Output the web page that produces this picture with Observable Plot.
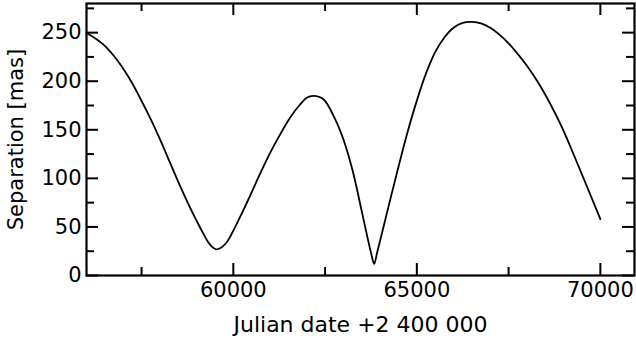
<!DOCTYPE html>
<html>
<head>
<meta charset="utf-8">
<script src="https://cdn.jsdelivr.net/npm/d3@7"></script>
<script src="https://cdn.jsdelivr.net/npm/@observablehq/plot@0.6"></script>
<style>
  html, body { margin: 0; padding: 0; background: #fff; }
  svg { display: block; }
</style>
</head>
<body>
<div id="chart"></div>
<script>
// Julian date (minus 2 400 000)
const jd = [56000, 56455, 56818, 57182, 57455, 57727, 58000, 58273, 58545, 58818, 59091, 59318, 59420, 59530, 59650, 59800, 59909, 60182, 60455, 60727, 61000, 61273, 61545, 61818, 62000, 62182, 62455, 62773, 63000, 63250, 63500, 63650, 63760, 63838, 63920, 64000, 64137, 64300, 64500, 64750, 65000, 65250, 65500, 65750, 66000, 66250, 66500, 66750, 67000, 67250, 67500, 67750, 68000, 68364, 68909, 69455, 70000];
// Separation in mas
const sep = [250, 238, 222.6, 202, 183, 162.7, 140.4, 116.4, 92.5, 70.2, 49.7, 34.2, 29.5, 27, 28.3, 33.2, 39.6, 60, 82, 104.5, 126, 145, 162.5, 176, 183, 185, 181.5, 161, 140, 108, 66, 40, 22, 12, 24, 36, 57, 82, 112, 148, 180, 208, 230, 245, 255, 260, 261, 259.5, 255, 248, 239, 228, 216, 195, 156, 108, 58];

const xMajor = [60000, 65000, 70000];
const xMinor = [57500, 62500, 67500];
const yMajor = [0, 50, 100, 150, 200, 250];
const yMinor = [25, 75, 125, 175, 225, 275];

const xLabel = "Julian date +2 400 000";
const yLabel = "Separation [mas]";

const data = jd.map((d, i) => ({jd: d, sep: sep[i]}));

const W = 636, H = 344;
const mL = 86, mR = 2, mT = 3, mB = 69;
const fw = W - mL - mR, fh = H - mT - mB;
const majLen = 12, minLen = 8;

const chart = Plot.plot({
  width: W,
  height: H,
  marginLeft: mL,
  marginRight: mR,
  marginTop: mT,
  marginBottom: mB,
  style: {fontFamily: "DejaVu Sans", fontSize: "21px", color: "#000", background: "#fff"},
  x: {domain: [56000, 70930], ticks: xMajor, tickSize: 0, tickPadding: 7, tickFormat: d => String(d), label: null},
  y: {domain: [0, 280], ticks: yMajor, tickSize: 0, tickPadding: 5, tickFormat: d => String(d), label: null},
  marks: [
    // bottom ticks
    Plot.tickX(xMajor, {x: d => d, insetTop: fh - majLen, stroke: "#000", strokeWidth: 2}),
    Plot.tickX(xMinor, {x: d => d, insetTop: fh - minLen, stroke: "#000", strokeWidth: 2}),
    // top ticks
    Plot.tickX(xMajor, {x: d => d, insetBottom: fh - majLen, stroke: "#000", strokeWidth: 2}),
    Plot.tickX(xMinor, {x: d => d, insetBottom: fh - minLen, stroke: "#000", strokeWidth: 2}),
    // left ticks
    Plot.tickY(yMajor, {y: d => d, insetRight: fw - majLen, stroke: "#000", strokeWidth: 2}),
    Plot.tickY(yMinor, {y: d => d, insetRight: fw - minLen, stroke: "#000", strokeWidth: 2}),
    // right ticks
    Plot.tickY(yMajor, {y: d => d, insetLeft: fw - majLen, stroke: "#000", strokeWidth: 2}),
    Plot.tickY(yMinor, {y: d => d, insetLeft: fw - minLen, stroke: "#000", strokeWidth: 2}),
    Plot.lineY(data, {x: "jd", y: "sep", stroke: "#000", strokeWidth: 1.8, curve: "catmull-rom"}),
    Plot.frame({stroke: "#000", strokeWidth: 2.2}),
    Plot.text([xLabel], {frameAnchor: "bottom", dy: 49, text: d => d, fontSize: 22, textAnchor: "middle", lineAnchor: "middle", fill: "#000"}),
    Plot.text([yLabel], {frameAnchor: "left", dx: -70, rotate: -90, text: d => d, fontSize: 21, textAnchor: "middle", lineAnchor: "middle", fill: "#000"})
  ]
});
document.getElementById("chart").appendChild(chart);
</script>
</body>
</html>
